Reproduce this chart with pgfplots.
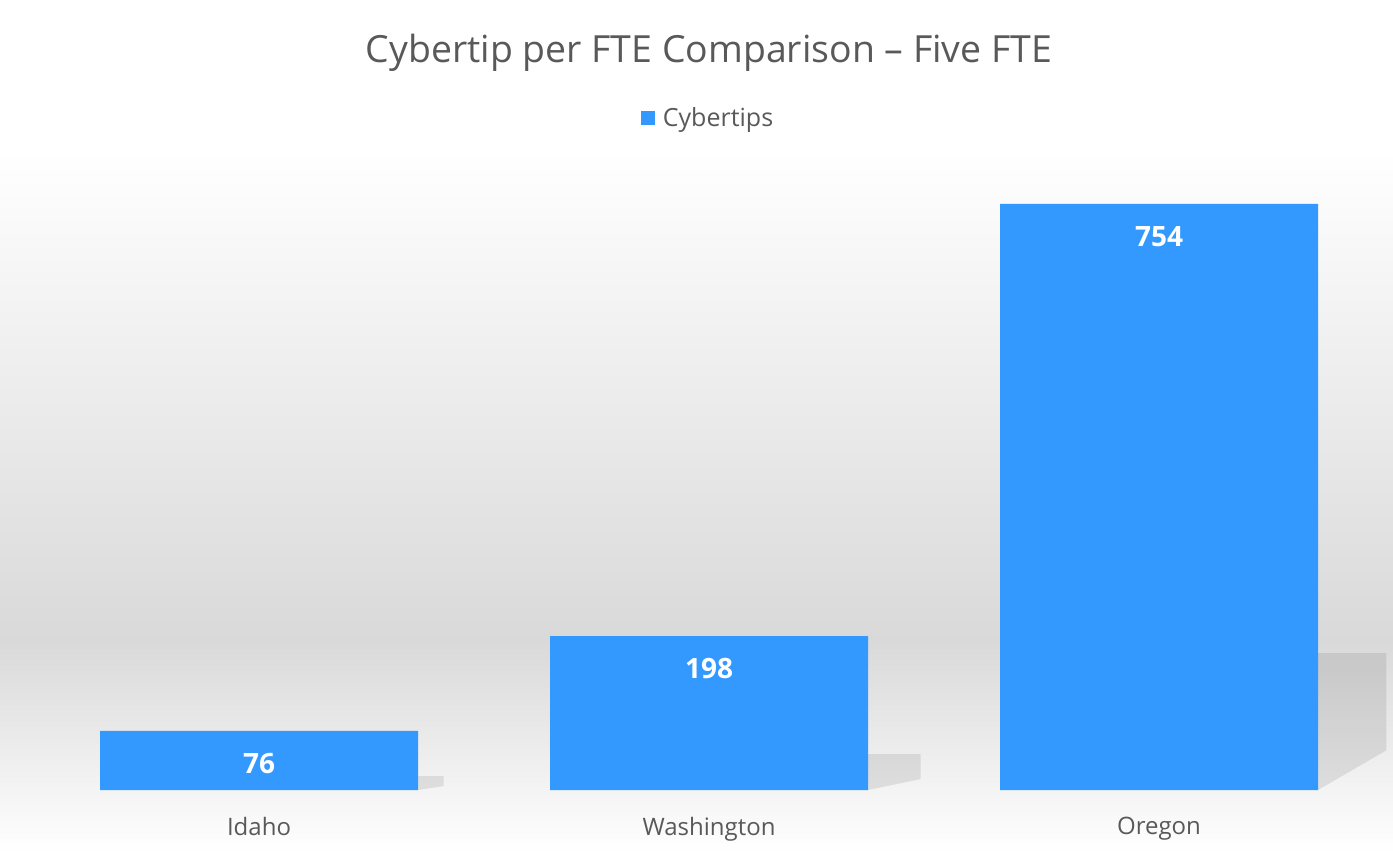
\documentclass[border=0pt]{standalone}
\usepackage{pgfplots}
\pgfplotsset{compat=1.18}
\usepackage{fontspec}
\setmainfont{Open Sans}
\definecolor{barblue}{HTML}{3399FF}
\definecolor{txtgray}{HTML}{595959}
\definecolor{bggray}{HTML}{D9D9D9}
\begin{document}
\begin{tikzpicture}
\fill[white] (0,0) rectangle (696.5pt,426pt);
\shade[top color=white,bottom color=bggray] (0,106pt) rectangle (696.5pt,351pt);
\shade[top color=bggray,bottom color=white] (0,0) rectangle (696.5pt,106pt);
\begin{axis}[
  at={(17pt,31pt)}, anchor=south west,
  scale only axis, width=675pt, height=310.9pt,
  xmin=-0.5, xmax=2.5, ymin=0, ymax=800,
  clip=false,
  xtick={0,1,2}, xticklabels={Idaho,Washington,Oregon},
  ytick=\empty,
  axis line style={draw=none},
  major tick length=0pt,
  xticklabel style={font=\fontsize{12}{14}\selectfont, text=txtgray, yshift=-10pt},
  ybar, bar width=159pt,
  nodes near coords,
  /pgf/number format/assume math mode=true,
  every node near coord/.append style={font=\bfseries\fontsize{14}{16}\selectfont, text=white, anchor=north, yshift=-7.5pt},
  legend style={at={(0.5,1.08)}, anchor=center, draw=none, fill=none, font=\fontsize{12.5}{14}\selectfont, text=txtgray},
  legend image code/.code={\fill[barblue] (0pt,-3.5pt) rectangle (7pt,3.5pt);},
]
% floor shadows (decoration)
\fill[black, opacity=0.09] (axis cs:0.3533,0) -- (axis cs:0.3533,18) -- (axis cs:0.41,18) -- (axis cs:0.41,5) -- cycle;
\fill[black, opacity=0.09] (axis cs:1.3533,0) -- (axis cs:1.3533,46) -- (axis cs:1.47,46) -- (axis cs:1.47,14) -- cycle;
\fill[black, opacity=0.09] (axis cs:2.3533,0) -- (axis cs:2.3533,176) -- (axis cs:2.505,176) -- (axis cs:2.505,51) -- cycle;
\addplot[fill=barblue, draw=none] coordinates {(0,76) (1,198) (2,754)};
\addlegendentry{\hspace{2pt}Cybertips}
\end{axis}
\node[text=txtgray, font=\fontsize{18.7}{22}\selectfont] at (354.5pt, 399.5pt) {Cybertip per FTE Comparison -- Five FTE};
\end{tikzpicture}
\end{document}
